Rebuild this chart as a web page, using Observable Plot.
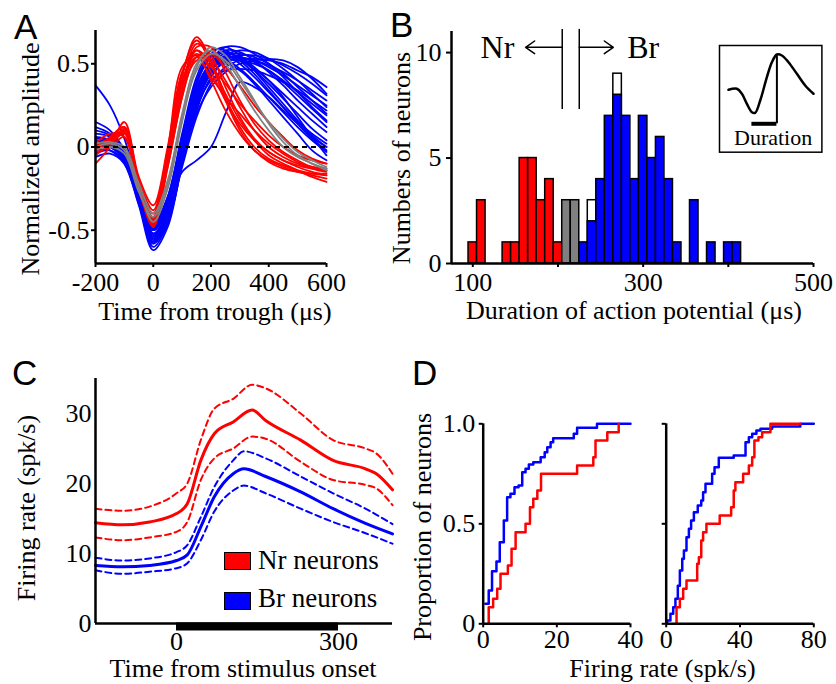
<!DOCTYPE html>
<html><head><meta charset="utf-8">
<script src="https://cdn.jsdelivr.net/npm/d3@7"></script>
<script src="https://cdn.jsdelivr.net/npm/@observablehq/plot@0.6"></script>
<style>
html,body{margin:0;padding:0;background:#fff;}
#fig{position:relative;width:836px;height:684px;overflow:hidden;font-family:"Liberation Serif","Times New Roman",serif;color:#000;background:#fff;}
#fig svg text{font-family:"Liberation Serif","Times New Roman",serif;}
.panel{position:absolute;}
.letter{position:absolute;font-family:"Liberation Sans",Arial,sans-serif;font-size:35px;line-height:1;}
.xt,.yt,.lg{font-family:"Liberation Serif","Times New Roman",serif;}
.xt{position:absolute;font-size:26px;line-height:1;white-space:nowrap;transform:translateX(-50%);}
.yt{position:absolute;font-size:26px;line-height:1;white-space:nowrap;transform:translate(-50%,-50%) rotate(-90deg);}
.sw{position:absolute;width:27px;height:18px;border:1.5px solid #000;box-sizing:border-box;}
.lg{position:absolute;font-size:27px;line-height:1;white-space:nowrap;}
</style></head><body><div id="fig"></div>
<script>
// ---------- Panel A data: spike waveforms ----------
const timesA = [-200,-150,-100,-50,0,50,100,150,200,250,300,350,400,450,500,550,600];
const blueWaves = [
  [0.02,0.03,-0.05,-0.30,-0.55,-0.38,0.02,0.38,0.56,0.60,0.55,0.46,0.36,0.26,0.16,0.07,0.00],
  [0.00,0.00,-0.08,-0.32,-0.58,-0.42,-0.05,0.30,0.50,0.58,0.57,0.52,0.45,0.37,0.28,0.20,0.12],
  [0.05,0.04,-0.03,-0.25,-0.50,-0.35,0.05,0.40,0.55,0.56,0.50,0.42,0.33,0.24,0.15,0.08,0.02],
  [0.15,0.10,-0.02,-0.28,-0.52,-0.40,-0.02,0.32,0.48,0.54,0.54,0.52,0.48,0.43,0.37,0.31,0.25],
  [-0.02,-0.02,-0.10,-0.35,-0.62,-0.48,-0.10,0.22,0.42,0.52,0.55,0.55,0.53,0.49,0.44,0.38,0.31],
  [0.03,0.02,-0.06,-0.28,-0.50,-0.36,0.00,0.34,0.50,0.54,0.52,0.47,0.40,0.32,0.24,0.16,0.09],
  [0.00,0.05,-0.02,-0.24,-0.47,-0.30,0.08,0.42,0.58,0.58,0.52,0.44,0.34,0.24,0.14,0.05,-0.02],
  [0.37,0.25,0.05,-0.25,-0.52,-0.38,-0.02,0.30,0.47,0.52,0.52,0.50,0.46,0.40,0.33,0.26,0.19],
  [0.02,0.00,-0.08,-0.30,-0.56,-0.42,-0.08,0.26,0.44,0.51,0.53,0.52,0.49,0.45,0.40,0.34,0.28],
  [0.08,0.06,-0.04,-0.27,-0.50,-0.36,-0.04,0.28,0.46,0.53,0.54,0.51,0.46,0.39,0.31,0.23,0.15],
  [0.00,0.02,-0.06,-0.30,-0.54,-0.40,-0.06,0.28,0.47,0.55,0.56,0.54,0.50,0.44,0.36,0.28,0.20],
  [0.00,0.02,-0.05,-0.28,-0.50,-0.35,-0.15,-0.08,0.00,0.20,0.39,0.36,0.30,0.22,0.14,0.06,0.00],
  [0.12,0.08,-0.03,-0.26,-0.49,-0.33,0.04,0.38,0.54,0.57,0.53,0.46,0.38,0.29,0.20,0.11,0.04],
  [-0.04,-0.02,-0.09,-0.33,-0.60,-0.46,-0.10,0.24,0.45,0.55,0.58,0.57,0.53,0.47,0.40,0.32,0.24],
  [0.04,0.03,-0.04,-0.26,-0.46,-0.30,0.06,0.36,0.50,0.52,0.47,0.39,0.30,0.21,0.12,0.04,-0.03],
  [0.01,0.01,-0.07,-0.31,-0.57,-0.44,-0.08,0.24,0.40,0.46,0.47,0.46,0.43,0.39,0.34,0.28,0.22],
  [0.06,0.04,-0.05,-0.28,-0.53,-0.39,-0.03,0.33,0.52,0.60,0.60,0.56,0.50,0.42,0.33,0.24,0.16],
  [-0.06,-0.04,-0.10,-0.34,-0.58,-0.45,-0.12,0.18,0.38,0.48,0.52,0.53,0.52,0.50,0.46,0.42,0.36],
  [0.03,0.02,-0.06,-0.29,-0.52,-0.40,-0.08,0.20,0.36,0.45,0.50,0.52,0.53,0.52,0.48,0.41,0.32],
  [0.00,0.01,-0.07,-0.30,-0.55,-0.40,-0.04,0.30,0.50,0.56,0.54,0.48,0.40,0.30,0.18,0.06,-0.05],
  [0.10,0.07,-0.02,-0.25,-0.48,-0.32,0.03,0.34,0.48,0.50,0.46,0.38,0.28,0.18,0.08,-0.02,-0.08]
];
const redWaves = [
  [0.00,0.03,0.10,-0.22,-0.45,-0.06,0.42,0.66,0.52,0.30,0.12,0.00,-0.07,-0.11,-0.14,-0.16,-0.17],
  [-0.02,0.05,0.12,-0.24,-0.48,-0.10,0.35,0.62,0.55,0.36,0.18,0.05,-0.03,-0.08,-0.12,-0.15,-0.17],
  [0.02,0.08,0.06,-0.24,-0.40,-0.02,0.48,0.55,0.40,0.22,0.08,-0.02,-0.08,-0.12,-0.15,-0.17,-0.19],
  [-0.10,0.00,0.15,-0.18,-0.35,0.00,0.45,0.58,0.45,0.28,0.14,0.04,-0.03,-0.08,-0.11,-0.13,-0.14],
  [0.00,0.02,0.08,-0.26,-0.47,-0.12,0.30,0.60,0.60,0.45,0.28,0.14,0.04,-0.03,-0.08,-0.12,-0.14],
  [0.01,0.04,0.10,-0.22,-0.42,-0.04,0.40,0.56,0.48,0.38,0.26,0.16,0.07,0.00,-0.05,-0.08,-0.10],
  [-0.03,0.00,0.06,-0.25,-0.44,-0.08,0.36,0.58,0.50,0.32,0.16,0.04,-0.05,-0.10,-0.14,-0.18,-0.21],
  [0.00,0.06,0.12,-0.20,-0.38,-0.03,0.44,0.64,0.50,0.28,0.10,-0.02,-0.09,-0.13,-0.15,-0.16,-0.16],
  [0.02,0.03,0.09,-0.24,-0.46,-0.10,0.32,0.52,0.52,0.40,0.24,0.10,0.00,-0.06,-0.10,-0.12,-0.13],
  [-0.05,0.02,0.11,-0.22,-0.43,-0.06,0.38,0.54,0.42,0.30,0.20,0.10,0.02,-0.04,-0.09,-0.13,-0.15],
  [0.00,0.04,0.09,-0.23,-0.44,-0.12,0.30,0.54,0.56,0.48,0.37,0.25,0.15,0.06,-0.02,-0.07,-0.10]
];
const grayWaves = [
  [0.00,0.02,-0.02,-0.25,-0.45,-0.25,0.15,0.48,0.60,0.55,0.42,0.28,0.14,0.03,-0.05,-0.10,-0.13],
  [-0.02,0.00,-0.04,-0.27,-0.42,-0.22,0.18,0.46,0.56,0.52,0.40,0.27,0.15,0.05,-0.03,-0.08,-0.12],
  [0.02,0.03,0.00,-0.22,-0.40,-0.20,0.20,0.50,0.58,0.50,0.36,0.22,0.10,0.00,-0.06,-0.10,-0.14]
];
const ticksAx = [-200,0,200,400,600];
const ticksAy = [-0.5,0,0.5];

// ---------- Panel B data: histogram of spike durations (10 µs bins) ----------
const redBins = [100,110,140,150,160,170,180,190,200];
const redCounts = [1,3,1,1,5,5,3,4,1];
const grayBins = [210,220];
const grayCounts = [3,3];
const blueBins = [230,240,250,260,270,280,290,300,310,320,330,340,360,380,400,410];
const blueCounts = [1,2,4,7,8,7,4,7,5,6,4,1,3,1,1,1];
const whiteBins = [240,270];
const whiteTotals = [3,9];
const cutoffs = [205,225];
const arrowEnds = [162,265];
const groupLabels = ["Nr","Br"];
const groupLabelX = [129,300];
const ticksBx = [100,200,300,400,500];
const ticksBy = [0,5,10];
// inset schematic waveform (box units)
const insetX = [9,17.4,22.4,27.4,32.4,35.7,40.7,47.4,52.4,57.4,62.4,69,77.4,85.7,94];
const insetY = [44.3,43.3,48.3,58.3,66.7,67.3,55,31.7,16.7,9,10,16.7,28.3,40,48.3];

// ---------- Panel C data: firing rate time course ----------
const timeNr = [-150,-100,-50,0,20,45,70,105,140,165,230,290,350,370,400];
const nrMean = [14.4,14.1,14.5,15.7,17.1,23.3,27.1,28.8,30.5,29.0,26.2,23.3,22.1,21.4,19.1];
const nrUpper = [16.4,16.1,16.7,18.6,20.0,26.2,30.7,32.1,34.1,33.6,30.0,26.2,25.0,24.3,21.4];
const nrLower = [12.3,11.9,12.3,13.1,14.5,20.5,23.6,25.0,26.7,26.4,23.1,20.5,19.8,19.3,16.9];
const timeBr = [-150,-100,-50,0,20,45,70,105,125,165,230,290,350,400];
const brMean = [8.3,8.1,8.3,9.0,9.8,13.8,18.1,21.4,22.1,21.0,18.8,16.4,14.3,12.8];
const brUpper = [9.4,9.0,9.3,10.2,11.2,15.2,19.5,23.3,24.6,23.6,21.0,18.6,16.4,14.2];
const brLower = [7.6,7.1,7.4,7.9,8.6,11.9,16.0,19.0,19.7,18.6,16.4,14.5,12.9,11.4];
const stimulus = [0,300];
const ticksCx = [0,300];
const ticksCy = [0,10,20,30];

// ---------- Panel D data: cumulative distributions ----------
const d1BlueX = [0.6,1.5,2.4,3.6,4.5,5.6,6.5,7.4,8.5,9.6,10.6,11.5,12.4,13.6,15.6,16.7,17.4,18.3,19.0,24.6,25.5,30.9,40];
const d1BlueY = [0.10,0.167,0.263,0.312,0.408,0.517,0.633,0.65,0.683,0.692,0.758,0.775,0.797,0.808,0.833,0.858,0.883,0.908,0.928,0.95,0.98,1.0,1.0];
const d1RedX = [1.5,1.5,2.7,3.8,4.7,6.7,7.7,8.8,11.5,12.7,13.6,14.7,15.7,25.5,29.9,30.5,33.7,36.8];
const d1RedY = [0,0.083,0.125,0.175,0.25,0.292,0.375,0.458,0.5,0.583,0.625,0.667,0.75,0.792,0.833,0.917,0.958,1.0];
const d2BlueX = [0.5,0.5,2.3,3.8,5,6.3,7.4,8.7,9.6,11,12.3,13.5,15,17.1,19,20,21.3,24.9,26.2,28.5,36.6,43,44.8,46.6,48.9,51.1,57.4,72.7,80];
const d2BlueY = [0,0.017,0.05,0.083,0.125,0.19,0.267,0.325,0.367,0.433,0.475,0.517,0.558,0.592,0.617,0.658,0.7,0.75,0.783,0.83,0.842,0.908,0.933,0.95,0.967,0.975,0.987,1.0,1.0];
const d2RedX = [5.6,5.6,7.4,9.2,11,16.8,17.7,19,20,21.8,29,35.2,36.6,37.5,41.7,44.8,46.6,47.8,50,52,56.5,72.7];
const d2RedY = [0,0.083,0.125,0.175,0.217,0.3,0.333,0.417,0.458,0.5,0.542,0.583,0.667,0.708,0.75,0.792,0.833,0.917,0.933,0.958,1.0,1.0];
const ticksD1x = [0,20,40];
const ticksD2x = [0,40,80];
const ticksDy = [0,0.5,1];

// ---------- colours ----------
const RED = "#ff0000", BLUE = "#0000ff", GRAY = "#808080";
const SERIF = '"Liberation Serif","Times New Roman",serif';
const baseStyle = {background:"transparent", overflow:"visible", fontFamily:SERIF, fontSize:"26px", color:"#000", maxWidth:"none"};

const fig = document.getElementById("fig");
function place(el, left, top) {
  const w = document.createElement("div");
  w.className = "panel"; w.style.left = left + "px"; w.style.top = top + "px";
  w.appendChild(el); fig.appendChild(w);
}
function html(cls, text, css) {
  const d = document.createElement("div");
  d.className = cls; d.textContent = text;
  Object.assign(d.style, css); fig.appendChild(d);
}
const fmt = d => String(d);

// ===== Panel A =====
function waveRows(waves, group) {
  return waves.flatMap((w, i) => w.map((v, j) => ({t: timesA[j], v, id: group + i})));
}
const plotA = Plot.plot({
  width: 350, height: 300,
  marginLeft: 95, marginTop: 30, marginRight: 24, marginBottom: 37,
  style: baseStyle,
  x: {domain: [-200, 600]},
  y: {domain: [-0.7, 0.7]},
  marks: [
    Plot.line(waveRows(blueWaves, "b"), {x: "t", y: "v", z: "id", stroke: BLUE, strokeWidth: 1.8, curve: "catmull-rom"}),
    Plot.line(waveRows(redWaves, "r"), {x: "t", y: "v", z: "id", stroke: RED, strokeWidth: 1.8, curve: "catmull-rom"}),
    Plot.line(waveRows(grayWaves, "g"), {x: "t", y: "v", z: "id", stroke: GRAY, strokeWidth: 1.8, curve: "catmull-rom"}),
    Plot.ruleY([0], {stroke: "#000", strokeWidth: 2, strokeDasharray: "5,4"}),
    Plot.axisX({ticks: ticksAx, tickFormat: fmt, tickSize: 4, tickPadding: 5, strokeWidth: 2, label: null, fontSize: 26}),
    Plot.axisY({ticks: ticksAy, tickFormat: fmt, tickSize: 4, tickPadding: 2, strokeWidth: 2, label: null, fontSize: 26}),
    Plot.ruleX([-200], {strokeWidth: 2.5}),
    Plot.ruleY([-0.7], {strokeWidth: 2.5})
  ]
});
place(plotA, 0, 0);

// ===== Panel B =====
const mk = (bins, counts) => bins.map((c, i) => ({c, n: counts[i]}));
const barOpts = (fill) => ({x1: d => d.c - 5, x2: d => d.c + 5, y1: d => 0, y2: d => d.n, fill, stroke: "#000", strokeWidth: 1.5});
const plotB = Plot.plot({
  width: 456, height: 300,
  marginLeft: 71, marginTop: 31, marginRight: 23, marginBottom: 37,
  style: baseStyle,
  x: {domain: [75, 500]},
  y: {domain: [0, 11]},
  marks: [
    Plot.rect(mk(whiteBins, whiteTotals), barOpts("#fff")),
    Plot.rect(mk(redBins, redCounts), barOpts(RED)),
    Plot.rect(mk(grayBins, grayCounts), barOpts(GRAY)),
    Plot.rect(mk(blueBins, blueCounts), barOpts(BLUE)),
    Plot.ruleX(cutoffs, {y1: 7.3, y2: 11.1, strokeWidth: 1.5}),
    Plot.arrow(cutoffs.map((c, i) => ({x1: c, x2: arrowEnds[i]})), {x1: "x1", x2: "x2", y1: 10.25, y2: 10.25, strokeWidth: 1.5, headLength: 11, headAngle: 70}),
    Plot.text(groupLabels, {x: (d, i) => groupLabelX[i], y: 9.75, text: d => d, lineAnchor: "bottom", textAnchor: "middle", fontSize: 32}),
    Plot.axisX({ticks: ticksBx, tickFormat: d => (d % 200 === 100 ? String(d) : ""), tickSize: 4, tickPadding: 5, strokeWidth: 2, label: null, fontSize: 26}),
    Plot.axisY({ticks: ticksBy, tickFormat: fmt, tickSize: 5, tickPadding: 5, strokeWidth: 2, label: null, fontSize: 26}),
    Plot.ruleX([75], {strokeWidth: 2.5}),
    Plot.ruleY([0], {strokeWidth: 2.5})
  ]
});
place(plotB, 380, 0);

// inset
const insetRows = insetX.map((x, i) => ({x, y: insetY[i]}));
const plotInset = Plot.plot({
  width: 104.4, height: 108.7, margin: 1,
  style: Object.assign({}, baseStyle, {background: "#fff"}),
  x: {domain: [0, 102.4], axis: null},
  y: {domain: [0, 106.7], reverse: true, axis: null},
  marks: [
    Plot.frame({stroke: "#000", strokeWidth: 1.5}),
    Plot.line(insetRows, {x: "x", y: "y", stroke: "#000", strokeWidth: 2.5, curve: "catmull-rom"}),
    Plot.ruleX([insetX[9]], {y1: insetY[9], y2: 78.3, stroke: "#000", strokeWidth: 2}),
    Plot.ruleY([78.3], {x1: insetX[4], x2: insetX[9], stroke: "#000", strokeWidth: 4}),
    Plot.text(["Duration"], {x: 53.6, y: 100, text: d => d, lineAnchor: "bottom", textAnchor: "middle", fontSize: 22})
  ]
});
place(plotInset, 718.3, 44);

// ===== Panel C =====
const rowsC = (t, v) => t.map((x, i) => ({x, y: v[i]}));
const plotC = Plot.plot({
  width: 410, height: 320,
  marginLeft: 95, marginTop: 38, marginRight: 18, marginBottom: 37,
  style: baseStyle,
  x: {domain: [-150, 400]},
  y: {domain: [0, 35]},
  marks: [
    Plot.line(rowsC(timeNr, nrUpper), {x: "x", y: "y", stroke: RED, strokeWidth: 2, strokeDasharray: "6,4", curve: "monotone-x"}),
    Plot.line(rowsC(timeNr, nrLower), {x: "x", y: "y", stroke: RED, strokeWidth: 2, strokeDasharray: "6,4", curve: "monotone-x"}),
    Plot.line(rowsC(timeNr, nrMean), {x: "x", y: "y", stroke: RED, strokeWidth: 3, curve: "monotone-x"}),
    Plot.line(rowsC(timeBr, brUpper), {x: "x", y: "y", stroke: BLUE, strokeWidth: 2, strokeDasharray: "6,4", curve: "monotone-x"}),
    Plot.line(rowsC(timeBr, brLower), {x: "x", y: "y", stroke: BLUE, strokeWidth: 2, strokeDasharray: "6,4", curve: "monotone-x"}),
    Plot.line(rowsC(timeBr, brMean), {x: "x", y: "y", stroke: BLUE, strokeWidth: 3, curve: "monotone-x"}),
    Plot.axisX({ticks: ticksCx, tickFormat: fmt, tickSize: 0, tickPadding: 8, label: null, fontSize: 26}),
    Plot.axisY({ticks: ticksCy, tickFormat: fmt, tickSize: 0, tickPadding: 4, label: null, fontSize: 26}),
    Plot.ruleX([-150], {strokeWidth: 2.5}),
    Plot.ruleY([0], {strokeWidth: 2.5}),
    Plot.ruleY([0], {x1: stimulus[0], x2: stimulus[1], strokeWidth: 8, dy: 3})
  ]
});
place(plotC, 0, 340);

// ===== Panel D =====
const rowsD = (xs, ys) => xs.map((x, i) => ({x, y: ys[i]}));
function cdfPlot(blueX, blueY, redX, redY, xmax, xticks, showY, ml, mr, w) {
  return Plot.plot({
    width: w, height: 320,
    marginLeft: ml, marginTop: 83.3, marginRight: mr, marginBottom: 36.7,
    style: baseStyle,
    x: {domain: [0, xmax]},
    y: {domain: [0, 1]},
    marks: [
      Plot.line(rowsD(blueX, blueY), {x: "x", y: "y", stroke: BLUE, strokeWidth: 2.5, curve: "step-after"}),
      Plot.line(rowsD(redX, redY), {x: "x", y: "y", stroke: RED, strokeWidth: 2.5, curve: "step-after"}),
      Plot.axisX({ticks: xticks, tickFormat: fmt, tickSize: 4, tickPadding: 2, strokeWidth: 2, label: null, fontSize: 26}),
      Plot.axisY({ticks: ticksDy, tickFormat: showY ? (d => d === 0 ? "0" : d.toFixed(1)) : (() => ""), tickSize: 4, tickPadding: 4, strokeWidth: 2, label: null, fontSize: 26}),
      Plot.ruleX([0], {strokeWidth: 2.5}),
      Plot.ruleY([0], {strokeWidth: 2.5})
    ]
  });
}
place(cdfPlot(d1BlueX, d1BlueY, d1RedX, d1RedY, 40, ticksD1x, true, 82.7, 20, 250), 400, 340);
place(cdfPlot(d2BlueX, d2BlueY, d2RedX, d2RedY, 80, ticksD2x, false, 25.7, 22.7, 196), 640, 340);

// ===== text: axis titles, letters, legend =====
html("xt", "Time from trough (μs)", {left: "215px", top: "298.5px"});
html("yt", "Normalized amplitude", {left: "30.7px", top: "158.5px"});
html("xt", "Duration of action potential (μs)", {left: "634px", top: "298px"});
html("yt", "Numbers of neurons", {left: "402.2px", top: "158.3px"});
html("xt", "Time from stimulus onset", {left: "243px", top: "655.5px"});
html("yt", "Firing rate (spk/s)", {left: "26.7px", top: "508px"});
html("xt", "Firing rate (spk/s)", {left: "662.5px", top: "655.5px"});
html("yt", "Proportion of neurons", {left: "423px", top: "527px"});
html("letter", "A", {left: "14px", top: "8.7px"});
html("letter", "B", {left: "390px", top: "7.4px"});
html("letter", "C", {left: "12px", top: "355.4px"});
html("letter", "D", {left: "412px", top: "355.4px"});
html("sw", "", {left: "224px", top: "552px", background: RED});
html("sw", "", {left: "224px", top: "591.5px", background: BLUE});
html("lg", "Nr neurons", {left: "258px", top: "547.4px"});
html("lg", "Br neurons", {left: "258px", top: "585.4px"});
</script>
</body></html>
